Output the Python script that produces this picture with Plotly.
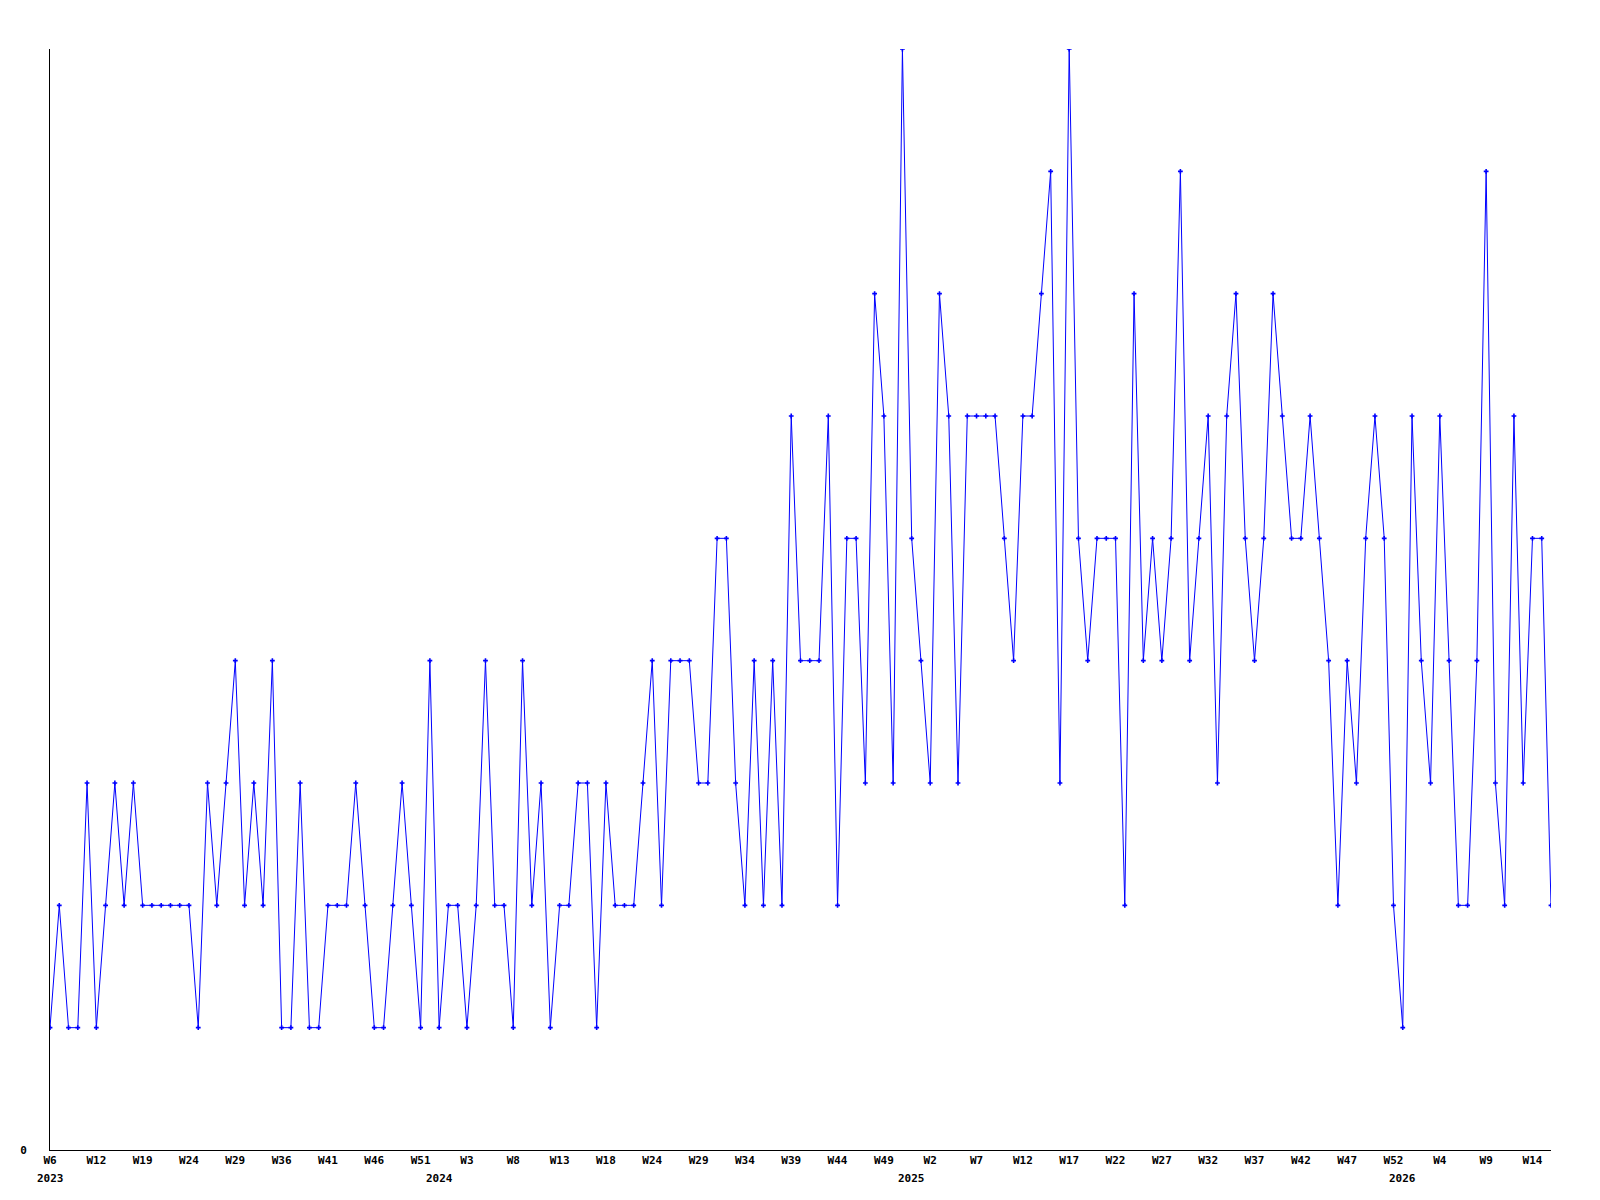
import plotly.graph_objects as go

# Valores semanais (nível 0-9)
VALORES = [
    1, 2, 1, 1, 3, 1, 2, 3, 2, 3, 2, 2, 2, 2, 2, 2, 1, 3, 2, 3, 4, 2, 3, 2, 4, 1, 1,
    3, 1, 1, 2, 2, 2, 3, 2, 1, 1, 2, 3, 2, 1, 4, 1, 2, 2, 1, 2, 4, 2, 2, 1, 4, 2, 3,
    1, 2, 2, 3, 3, 1, 3, 2, 2, 2, 3, 4, 2, 4, 4, 4, 3, 3, 5, 5, 3, 2, 4, 2, 4, 2, 6,
    4, 4, 4, 6, 2, 5, 5, 3, 7, 6, 3, 9, 5, 4, 3, 7, 6, 3, 6, 6, 6, 6, 5, 4, 6, 6, 7,
    8, 3, 9, 5, 4, 5, 5, 5, 2, 7, 4, 5, 4, 5, 8, 4, 5, 6, 3, 6, 7, 5, 4, 5, 7, 6, 5,
    5, 6, 5, 4, 2, 4, 3, 5, 6, 5, 2, 1, 6, 4, 3, 6, 4, 2, 2, 4, 8, 3, 2, 6, 3, 5, 5, 2,
]

# Rótulos do eixo X (um a cada 5 pontos)
SEMANAS = [
    "W6", "W12", "W19", "W24", "W29", "W36", "W41", "W46", "W51", "W3", "W8",
    "W13", "W18", "W24", "W29", "W34", "W39", "W44", "W49", "W2", "W7", "W12",
    "W17", "W22", "W27", "W32", "W37", "W42", "W47", "W52", "W4", "W9", "W14",
]
PASSO_TICK = 5

ANOS = ["2023", "2024", "2025", "2026"]
ANO_INICIO = [0, 42, 93, 146]

FONTE = dict(family="DejaVu Sans Mono", size=11, color="black", weight="bold")

x = list(range(len(VALORES)))

fig = go.Figure()
fig.add_trace(go.Scatter(
    x=x, y=VALORES,
    mode="lines+markers",
    line=dict(color="#0000ff", width=1),
    marker=dict(symbol="cross", size=4, color="#0000ff", line=dict(width=0)),
    showlegend=False,
    hoverinfo="x+y",
))

# Anos abaixo dos rótulos das semanas
for ano, pos in zip(ANOS, ANO_INICIO):
    fig.add_annotation(
        x=pos, y=0, xref="x", yref="paper",
        text=ano, showarrow=False,
        xanchor="center", yanchor="top", yshift=-20,
        font=FONTE,
    )

# a página tem 8px de margem no body, por isso 1592x1192
fig.update_layout(
    width=1592, height=1192,
    paper_bgcolor="white", plot_bgcolor="white",
    margin=dict(l=42, r=49, t=41, b=50),
    xaxis=dict(
        range=[0, len(VALORES) - 1],
        tickvals=x[::PASSO_TICK], ticktext=SEMANAS,
        showgrid=False, zeroline=False,
        showline=True, linecolor="black", linewidth=1,
        ticks="", tickfont=FONTE,
    ),
    yaxis=dict(
        range=[0, 9],
        tickvals=[0], ticktext=["0"],
        showgrid=False, zeroline=False,
        showline=True, linecolor="black", linewidth=1,
        ticks="", tickfont=FONTE, ticklabelstandoff=20,
    ),
)

fig.write_html("out.html")
